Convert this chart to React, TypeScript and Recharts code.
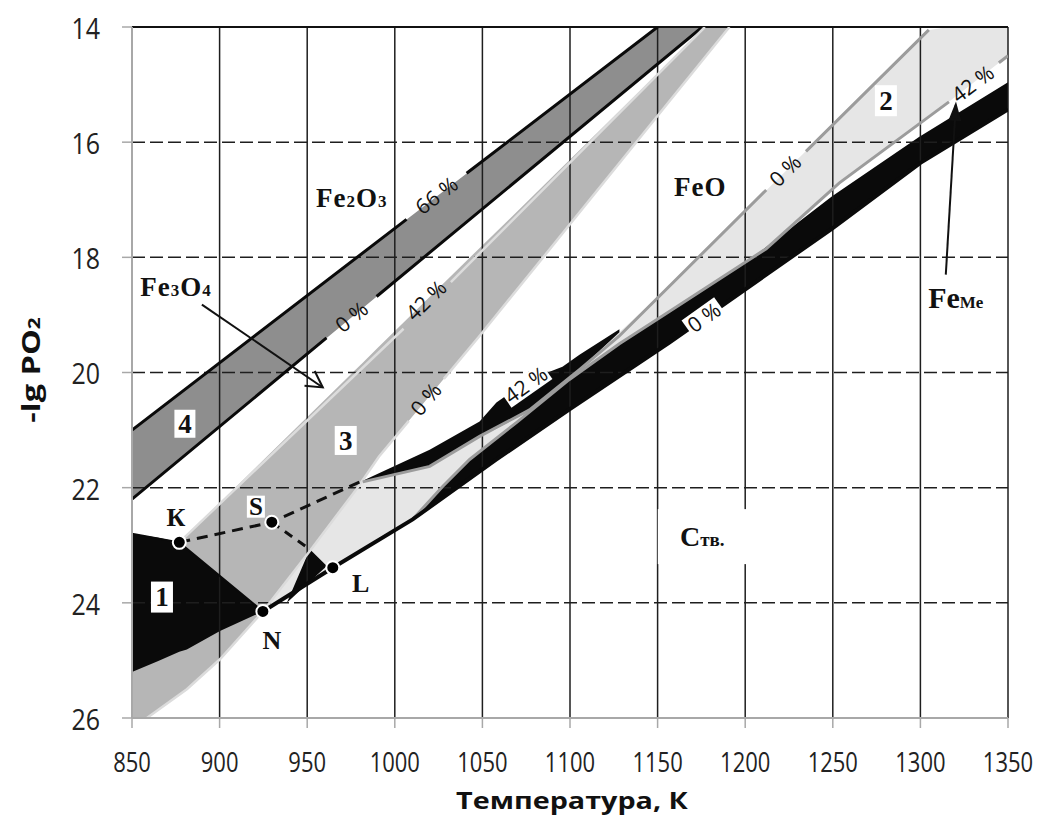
import React from 'react';
import { ComposedChart, Area, Line, XAxis, YAxis, ReferenceLine, ReferenceDot } from 'recharts';

const X_TICKS = [850, 900, 950, 1000, 1050, 1100, 1150, 1200, 1250, 1300, 1350];
const Y_TICKS = [14, 16, 18, 20, 22, 24, 26];

// filled fields: temperature, upper edge (smaller -lg PO2), lower edge
const field4T = [850, 1150, 1175.5];
const field4Hi = [21.0, 14.0, 14.0];
const field4Lo = [22.2, 14.64, 14.0];

const field3T = [850, 858.5, 877, 881.3, 900.2, 924.7, 951.5, 978, 981.7, 991, 1048, 1071, 1177, 1191];
const field3Hi = [22.8, 22.85, 22.95, 22.82, 22.26, 21.53, 20.73, 19.94, 19.83, 19.55, 17.85, 17.17, 14.0, 14.0];
const field3Lo = [26.0, 26.0, 25.6, 25.5, 24.98, 24.15, 23.1, 22.03, 21.88, 21.46, 19.38, 18.5, 14.53, 14.0];

const field2T = [924.7, 938, 951.5, 964.6, 978, 981.7, 991.4, 1010.2, 1027.3, 1042.7, 1058, 1069.4, 1099.7, 1128.2, 1156.7, 1174, 1212, 1253.6, 1300, 1305, 1316.3, 1350];
const field2Hi = [24.15, 23.63, 23.1, 22.57, 22.03, 21.88, 21.84, 21.7, 21.5, 21.21, 20.99, 20.8, 20.1, 19.3, 18.5, 17.99, 16.84, 15.58, 14.2, 14.05, 14.0, 14.0];
const field2Lo = [24.15, 23.9, 23.64, 23.39, 23.14, 23.07, 22.85, 22.55, 21.98, 21.51, 21.15, 20.87, 20.12, 19.5, 18.94, 18.62, 17.85, 16.71, 15.65, 15.53, 15.3, 14.5];

const field1T = [850, 865, 877, 881.3, 900.2, 924.7];
const field1Hi = [22.8, 22.87, 22.95, 23.06, 23.54, 24.15];
const field1Lo = [25.2, 25.01, 24.85, 24.81, 24.49, 24.15];

const wedgeT = [1010.2, 1027.3, 1042.7, 1058, 1069.4, 1099.7, 1128.2, 1156.7, 1200.5, 1249.6, 1299.2, 1350];
const wedgeHi = [22.55, 21.98, 21.51, 21.15, 20.87, 20.12, 19.5, 18.94, 18.09, 16.94, 15.91, 14.96];
const wedgeLo = [22.55, 22.2, 21.86, 21.51, 21.28, 20.64, 20.06, 19.48, 18.55, 17.5, 16.36, 15.43];

const lensT = [981.7, 1019.9, 1048.4, 1058, 1076.9, 1095.7, 1105.4, 1128.2];
const lensHi = [21.88, 21.34, 20.85, 20.52, 20.12, 19.9, 19.69, 19.25];
const lensLo = [21.9, 21.63, 21.11, 20.95, 20.65, 20.25, 19.95, 19.3];

const wedgeLT = [938.4, 951.5, 961.2];
const wedgeLHi = [24.0, 23.07, 23.36];
const wedgeLLo = [24.0, 23.63, 23.36];

// boundary lines (null = gap for the % label)
const upper4T = [850, 1006.7, 1024, 1041, 1150];
const upper4V = [21.0, 17.34, null, 16.54, 14.0];
const lower4T = [850, 961, 975, 989.6, 1175.5];
const lower4V = [22.2, 19.4, null, 18.68, 14.0];
const line42T = [877, 1005, 1018, 1032, 1177];
const line42V = [22.95, 19.24, null, 18.43, 14.0];
const line0T = [858.5, 881.3, 900.2, 924.7, 951.5, 978, 991, 1008, 1018, 1028, 1048, 1191];
const line0V = [26.0, 25.5, 24.98, 24.15, 23.1, 22.03, 21.46, 20.84, null, 20.11, 19.38, 14.0];
const lineAT = [981.7, 1019.9, 1048.4, 1076.9, 1105.4, 1128, 1212, 1223, 1234.7, 1304.8];
const lineAV = [21.9, 21.63, 21.11, 20.65, 19.95, 19.37, 16.83, null, 16.16, 14.05];
const lineBT = [1010.2, 1027.3, 1042.7, 1069.4, 1099.7, 1128.2, 1156.7, 1212, 1253.6, 1316.3, 1330, 1344.8, 1350];
const lineBV = [22.55, 21.98, 21.51, 20.87, 20.12, 19.5, 18.94, 17.85, 16.71, 15.3, null, 14.62, 14.5];
const baseT = [924.7, 964.6, 1010.2, 1058, 1099.7, 1156.7, 1249.6, 1300, 1350];
const baseV = [24.15, 23.39, 22.55, 21.51, 20.64, 19.48, 17.5, 16.36, 15.43];
const knT = [850, 877, 924.7];
const knV = [22.8, 22.95, 24.15];
const ksT = [877, 929.8, 980];
const ksV = [22.95, 22.6, 21.9];
const slT = [929.8, 951.5];
const slV = [22.6, 23.07];
const arrowOxT = [889.9, 958.9];
const arrowOxV = [18.82, 20.26];
const arrowFeT = [1314.5, 1320.2];
const arrowFeV = [18.3, 15.35];

// points K, S, N, L
const pointNames = ['К', 'S', 'N', 'L'];
const pointT = [877, 929.8, 924.7, 964.6];
const pointV = [22.95, 22.6, 24.15, 23.39];

const rows = (t: number[], hi: number[], lo: number[]) => t.map((x, i) => ({ t: x, r: [hi[i], lo[i]] }));
const pts = (t: number[], v: (number | null)[]) => t.map((x, i) => ({ t: x, v: v[i] }));

const SERIF = "'Liberation Serif', 'Times New Roman', serif";
const SANS = "'Open Sans', 'Noto Sans', sans-serif";

const tag = (content: React.ReactNode, opts: { angle?: number; size?: number; font?: string; weight?: string | number; box?: [number, number]; spacing?: number } = {}) =>
  (p: any) => {
    const { angle = 0, size = 26, font = SERIF, weight = 'bold', box, spacing = 0 } = opts;
    return (
      <g transform={`translate(${p.cx},${p.cy}) rotate(${angle})`}>
        {box && <rect x={-box[0] / 2} y={-box[1] / 2} width={box[0]} height={box[1]} fill="#fff" />}
        <text x={0} y={size * 0.34} textAnchor="middle" fontFamily={font} fontWeight={weight} fontSize={size} letterSpacing={spacing} fill="#111">
          {content}
        </text>
      </g>
    );
  };

const arrowHead = (angle: number, filled: boolean) => (p: any) => (
  <path
    d={filled ? 'M -15 -5 L 0 0 L -15 5 Z' : 'M -16 -9 L 0 0 L -16 9'}
    transform={`translate(${p.cx},${p.cy}) rotate(${angle})`}
    fill={filled ? '#111' : 'none'}
    stroke="#111"
    strokeWidth={2}
  />
);

const pointDot = (p: any) => <circle cx={p.cx} cy={p.cy} r={6.5} fill="#000" stroke="#fff" strokeWidth={2} />;

const XTick = (p: any) => (
  <g transform={`translate(${p.x},${p.y + 32}) scale(1,1.2)`}>
    <text x={0} y={0} textAnchor="middle" dominantBaseline="central" fontFamily={SANS} fontSize={22} fill="#222">
      {p.payload.value}
    </text>
  </g>
);

const YTick = (p: any) => (
  <g transform={`translate(${p.x},${p.y}) scale(1,1.2)`}>
    <text x={0} y={0} textAnchor="end" dominantBaseline="central" fontFamily={SANS} fontSize={25} fill="#222">
      {p.payload.value}
    </text>
  </g>
);

const XTitle = () => (
  <g transform="translate(572,800) scale(1.25,1)">
    <text x={0} y={0} textAnchor="middle" dominantBaseline="central" fontFamily={SANS} fontWeight="bold" fontSize={23} fill="#111">
      Температура, К
    </text>
  </g>
);

const YTitle = () => (
  <g transform="translate(31,370) rotate(-90) scale(1.3,1)">
    <text x={0} y={9} textAnchor="middle" fontFamily={SANS} fontWeight="bold" fontSize={25} fill="#111">
      -lg PO<tspan fontSize={16}>2</tspan>
    </text>
  </g>
);

const fill = (key: string, data: any[], color: string) => (
  <Area key={key} data={data} dataKey="r" type="linear" stroke="none" fill={color} fillOpacity={1} dot={false} activeDot={false} isAnimationActive={false} />
);

const stroke = (key: string, data: any[], color: string, width: number, dash?: string) => (
  <Line key={key} data={data} dataKey="v" type="linear" stroke={color} strokeWidth={width} strokeDasharray={dash} dot={false} activeDot={false} connectNulls={false} isAnimationActive={false} />
);

const sub = (s: string, size = 17) => <tspan fontSize={size}>{s}</tspan>;

export default function App() {
  return (
    <div style={{ position: 'absolute', left: 0, top: 0, background: '#fff' }}>
      <ComposedChart width={1047} height={816} margin={{ top: 27, right: 39, bottom: 0, left: 0 }}>
        <XAxis
          type="number"
          dataKey="t"
          domain={[850, 1350]}
          ticks={X_TICKS}
          allowDataOverflow
          interval={0}
          height={98}
          tickSize={10}
          tick={<XTick />}
          tickLine={{ stroke: '#a8a8a8', strokeWidth: 1.5 }}
          axisLine={{ stroke: '#a8a8a8', strokeWidth: 2 }}
          label={<XTitle />}
        />
        <YAxis
          type="number"
          domain={[14, 26]}
          reversed
          ticks={Y_TICKS}
          allowDataOverflow
          interval={0}
          width={132}
          tickSize={10}
          tickMargin={22}
          tick={<YTick />}
          tickLine={{ stroke: '#a8a8a8', strokeWidth: 1.5 }}
          axisLine={{ stroke: '#a8a8a8', strokeWidth: 2 }}
          label={<YTitle />}
        />

        {fill('f4', rows(field4T, field4Hi, field4Lo), '#8e8e8e')}
        {fill('f3', rows(field3T, field3Hi, field3Lo), '#b6b6b6')}
        {fill('f2', rows(field2T, field2Hi, field2Lo), '#e6e6e6')}
        {fill('f1', rows(field1T, field1Hi, field1Lo), '#0a0a0a')}
        {fill('wedge', rows(wedgeT, wedgeHi, wedgeLo), '#0a0a0a')}
        {fill('lens', rows(lensT, lensHi, lensLo), '#0a0a0a')}
        {fill('wedgeL', rows(wedgeLT, wedgeLHi, wedgeLLo), '#0a0a0a')}

        {X_TICKS.slice(1).map((x) => (
          <ReferenceLine key={`vx${x}`} x={x} stroke="#1e1e1e" strokeWidth={1.5} />
        ))}
        {Y_TICKS.slice(1, -1).map((y) => (
          <ReferenceLine key={`hy${y}`} y={y} stroke="#1e1e1e" strokeWidth={1.5} strokeDasharray="13 5" />
        ))}
        <ReferenceLine y={14} stroke="#111" strokeWidth={2} />

        {stroke('u4', pts(upper4T, upper4V), '#0a0a0a', 3)}
        {stroke('l4', pts(lower4T, lower4V), '#0a0a0a', 3)}
        {stroke('l42', pts(line42T, line42V), '#dcdcdc', 2.5)}
        {stroke('l0', pts(line0T, line0V), '#dcdcdc', 2.5)}
        {stroke('lA', pts(lineAT, lineAV), '#9c9c9c', 3)}
        {stroke('lB', pts(lineBT, lineBV), '#9c9c9c', 3)}
        {stroke('base', pts(baseT, baseV), '#0a0a0a', 4)}
        {stroke('kn', pts(knT, knV), '#0a0a0a', 2)}
        {stroke('ks', pts(ksT, ksV), '#111', 3, '11 7')}
        {stroke('sl', pts(slT, slV), '#111', 3, '9 7')}
        {stroke('aOx', pts(arrowOxT, arrowOxV), '#111', 2)}
        {stroke('aFe', pts(arrowFeT, arrowFeV), '#111', 2)}

        <ReferenceDot x={arrowOxT[1]} y={arrowOxV[1]} shape={arrowHead(34.4, false)} />
        <ReferenceDot x={arrowFeT[1]} y={arrowFeV[1]} shape={arrowHead(-86.6, true)} />

        {pointT.map((t, i) => (
          <ReferenceDot key={`p${i}`} x={t} y={pointV[i]} shape={pointDot} />
        ))}

        {/* percent labels along the boundaries */}
        <ReferenceDot x={1024} y={16.93} shape={tag('66 %', { angle: -37.5, size: 21, font: SANS, weight: 'normal' })} />
        <ReferenceDot x={975.5} y={19.04} shape={tag('0 %', { angle: -39.6, size: 21, font: SANS, weight: 'normal' })} />
        <ReferenceDot x={1018} y={18.75} shape={tag('42 %', { angle: -44.4, size: 21, font: SANS, weight: 'normal' })} />
        <ReferenceDot x={1018} y={20.47} shape={tag('0 %', { angle: -50, size: 21, font: SANS, weight: 'normal' })} />
        <ReferenceDot x={1075} y={20.22} shape={tag('42 %', { angle: -35, size: 21, font: SANS, weight: 'normal', box: [50, 20] })} />
        <ReferenceDot x={1223} y={16.5} shape={tag('0 %', { angle: -44.7, size: 21, font: SANS, weight: 'normal' })} />
        <ReferenceDot x={1330} y={14.99} shape={tag('42 %', { angle: -36.5, size: 21, font: SANS, weight: 'normal' })} />
        <ReferenceDot x={1176.6} y={19.05} shape={tag('0 %', { angle: -35.5, size: 21, font: SANS, weight: 'normal', box: [40, 22] })} />

        {/* phase names */}
        <ReferenceDot x={975.4} y={16.97} shape={tag(<>Fe{sub('2')}O{sub('3')}</>, { size: 27, spacing: 1 })} />
        <ReferenceDot x={875.1} y={18.51} shape={tag(<>Fe{sub('3')}O{sub('4')}</>, { size: 27, spacing: 1 })} />
        <ReferenceDot x={1174.3} y={16.78} shape={tag('FeO', { size: 27, spacing: 1 })} />
        <ReferenceDot x={1175.5} y={22.85} shape={tag(<>C{sub('тв.', 19)}</>, { size: 28, box: [89, 55] })} />
        <ReferenceDot x={1320.2} y={18.7} shape={tag(<>Fe{sub('Me')}</>, { size: 30 })} />

        {/* field numbers */}
        <ReferenceDot x={867.1} y={23.9} shape={tag('1', { size: 27, box: [22, 31] })} />
        <ReferenceDot x={1280.3} y={15.28} shape={tag('2', { size: 27, box: [22, 31] })} />
        <ReferenceDot x={972} y={21.18} shape={tag('3', { size: 27, box: [22, 29] })} />
        <ReferenceDot x={880.2} y={20.89} shape={tag('4', { size: 27, box: [21, 28] })} />

        {/* point names */}
        <ReferenceDot x={875.1} y={22.52} shape={tag(pointNames[0], { size: 26 })} />
        <ReferenceDot x={920.7} y={22.33} shape={tag(pointNames[1], { size: 25, box: [18, 22] })} />
        <ReferenceDot x={929.8} y={24.65} shape={tag(pointNames[2], { size: 26 })} />
        <ReferenceDot x={980.5} y={23.66} shape={tag(pointNames[3], { size: 26 })} />
      </ComposedChart>
    </div>
  );
}
